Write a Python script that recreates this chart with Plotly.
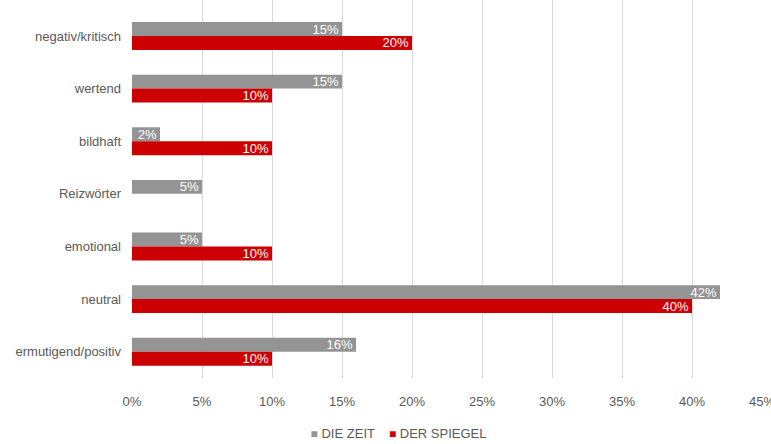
import plotly.graph_objects as go

categories = ["negativ/kritisch", "wertend", "bildhaft", "Reizwörter", "emotional", "neutral", "ermutigend/positiv"]
die_zeit = [15, 15, 2, 5, 5, 42, 16]
der_spiegel = [20, 10, 10, None, 10, 40, 10]
x_ticks = [0, 5, 10, 15, 20, 25, 30, 35, 40, 45]
x_tick_labels = [f"{v}%" for v in x_ticks]
series_names = ["DIE ZEIT", "DER SPIEGEL"]

FONT = "Liberation Sans, Arial, Helvetica, sans-serif"
GRAY = "#949494"
RED = "#CC0000"


def labels(vals):
    return [f"{v}%" if v is not None else "" for v in vals]


fig = go.Figure()
for name, vals, col in [(series_names[0], die_zeit, GRAY), (series_names[1], der_spiegel, RED)]:
    fig.add_trace(go.Bar(
        y=categories, x=vals, orientation="h", name=name,
        marker=dict(color=col, line=dict(width=0)),
        text=labels(vals), texttemplate="%{text}",
        textposition="inside", insidetextanchor="end",
        textfont=dict(color="white", size=13, family=FONT),
        cliponaxis=False, showlegend=False,
    ))
# legend entries: coloured square glyph inside the legend text, one legend each
for name, col, lg in [(series_names[0], GRAY, "legend"), (series_names[1], RED, "legend2")]:
    fig.add_trace(go.Scatter(
        x=[None], y=[None], mode="markers",
        name=f'<span style="color:{col};font-size:12px">■</span> {name}',
        marker=dict(symbol="square", size=1, color="rgba(0,0,0,0)"),
        showlegend=True, legend=lg,
    ))

legend_common = dict(orientation="h", xref="container", yref="container",
                     y=0.025, xanchor="left", yanchor="middle",
                     font=dict(size=13, color="#595959"), itemwidth=30,
                     bgcolor="rgba(0,0,0,0)")

fig.update_layout(
    width=771, height=444,
    margin=dict(l=132, r=9, t=0, b=66, autoexpand=False),
    paper_bgcolor="white", plot_bgcolor="white",
    barmode="group", bargap=0.47, bargroupgap=0,
    font=dict(family=FONT, color="#595959", size=13),
    uniformtext=dict(minsize=13, mode="show"),
    showlegend=True,
    legend=dict(x=0.351, **legend_common),
    legend2=dict(x=0.4525, **legend_common),
    xaxis=dict(range=[0, 45], tickvals=x_ticks, ticktext=x_tick_labels,
               showgrid=True, gridcolor="#d9d9d9", gridwidth=1,
               zeroline=False, showline=False, ticks="",
               ticklabelstandoff=14, ticklabeloverflow="allow",
               automargin=False),
    yaxis=dict(categoryorder="array", categoryarray=categories,
               range=[6.5, -0.684], showgrid=False, zeroline=False,
               showline=False, ticks="", ticklabelstandoff=10,
               automargin=False),
)
fig.write_html("out.html", config={"displayModeBar": False})

# remove the default 8px body margin so the figure fills the window
with open("out.html", "r", encoding="utf-8") as f:
    html = f.read()
html = html.replace("<head>", "<head><style>html,body{margin:0;padding:0;overflow:hidden;}</style>", 1)
with open("out.html", "w", encoding="utf-8") as f:
    f.write(html)
